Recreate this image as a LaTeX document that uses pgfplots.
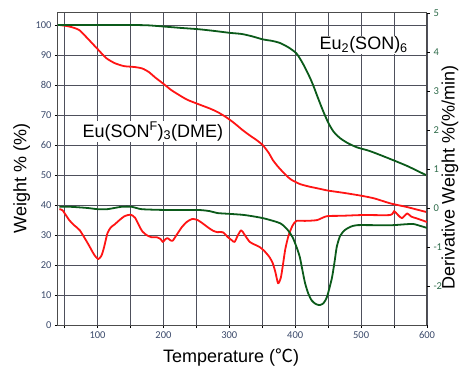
\documentclass[border=0pt]{standalone}
\usepackage{pgfplots}
\pgfplotsset{compat=1.18}
\usepackage{fontspec}
\setmainfont{Liberation Sans}
\newfontfamily\cjk{Noto Sans CJK SC}
\newfontfamily\carlito{Carlito}
\definecolor{tgared}{HTML}{FF1414}
\definecolor{tgagreen}{HTML}{0B5A1A}
\definecolor{ticklblue}{HTML}{3B4A6B}
\definecolor{ticklgreen}{HTML}{2E6B4A}
\definecolor{gridc}{RGB}{78,80,92}

\begin{document}
\begin{tikzpicture}
\begin{axis}[
  scale only axis, width=369pt, height=312pt,
  xmin=40, xmax=600, ymin=0, ymax=104, clip=false,
  xtick={50,100,...,600}, xticklabels={,100,,200,,300,,400,,500,,600},
  ytick={0,10,...,100},
  grid=major, grid style={gridc, line width=0.9pt, solid},
  axis line style={black!70, line width=1pt},
  tick style={black, line width=0.6pt}, tick align=outside, major tick length=3pt,
  xtick pos=bottom, ytick pos=left,
  ticklabel style={font=\carlito\fontsize{10.5}{12}\selectfont, text=ticklblue},
  /pgf/number format/assume math mode=true,
  xlabel={Temperature ({\cjk ℃})},
  ylabel={Weight \% (\%)},
  label style={font=\fontsize{18}{21}\selectfont},
  xlabel style={at={(axis description cs:0.469,-0.103)}, anchor=center},
  ylabel style={at={(axis description cs:-0.098,0.47)}, anchor=center},
]
\pgfplotsinvokeforeach{50,100,...,550}{
  \addplot[gridc, line width=0.9pt, forget plot] coordinates {(#1,0) (#1,104)};
}
\pgfplotsinvokeforeach{10,20,...,100}{
  \addplot[gridc, line width=0.9pt, forget plot] coordinates {(40,#1) (600,#1)};
}
\addplot[tgared, line width=1.8pt, smooth, tension=0.4, line join=round] coordinates {
(42,100) (55,99.6) (65,99) (73,98.2) (85,95.5) (100,92) (113,89) (126,87.3) (140,86.3) (156,86) (168,85.5) (178,84.3) (187,82.6) (200,80.4) (212,78.3) (225,76.5) (237,75) (258,73.2) (270,72.2) (282,71) (295,69.3) (308,67.2) (320,65) (331,63.2) (341,61.7) (351,59.9) (360,57.3) (366,55) (373,53) (380,51.3) (388,49.5) (395,48.3) (407,47) (420,46.2) (435,45.5) (450,44.8) (475,44) (500,43.1) (520,42.2) (545,40.5) (570,39.3) (600,37.6)
};
\addplot[tgagreen, line width=1.8pt, smooth, tension=0.4, line join=round] coordinates {
(40,100) (100,100) (150,100) (176,99.9) (200,99.5) (228,99) (253,98.6) (278,98) (300,97.4) (319,97) (335,96.2) (351,95.2) (365,94.7) (377,94) (390,92.5) (402,90.5) (412,87) (422,82.6) (428,79.5) (434,76) (442,71.5) (450,67.5) (458,64.5) (468,62.3) (480,60.6) (494,59.2) (513,58) (539,55.8) (570,53) (600,49.8)
};
\node[font=\fontsize{18}{21}\selectfont, fill=white, inner sep=1pt] at (axis cs:184,64.5) {Eu(SON\textsuperscript{F})\textsubscript{3}(DME)};
\node[font=\fontsize{18}{21}\selectfont, fill=white, inner sep=1pt] at (axis cs:504,93.3) {Eu\textsubscript{2}(SON)\textsubscript{6}};
\end{axis}
\begin{axis}[
  scale only axis, width=369pt, height=312pt,
  xmin=40, xmax=600, ymin=-3, ymax=5,
  axis x line=none, axis y line*=right,
  ytick={-2,...,5},
  axis line style={black!70, line width=1pt},
  tick style={black, line width=0.6pt}, tick align=outside, major tick length=3pt,
  ticklabel style={font=\carlito\fontsize{10.5}{12}\selectfont, text=ticklgreen},
  /pgf/number format/assume math mode=true,
  ylabel={Derivative Weight \%(\%/min)},
  label style={font=\fontsize{18}{21}\selectfont},
  ylabel style={at={(axis description cs:1.062,0.473)}, anchor=center},
]
\addplot[tgared, line width=1.8pt, smooth, tension=0.4, line join=round] coordinates {
(42,-0.03) (47,-0.06) (57,-0.31) (65,-0.45) (73,-0.57) (85,-0.9) (95,-1.2) (101,-1.31) (106,-1.22) (110,-1.0) (115,-0.65) (120,-0.5) (126,-0.42) (134,-0.3) (141,-0.21) (150,-0.17) (157,-0.25) (163,-0.45) (168,-0.6) (175,-0.7) (182,-0.75) (190,-0.75) (196,-0.8) (199,-0.87) (203,-0.8) (206,-0.77) (210,-0.82) (214,-0.84) (220,-0.69) (228,-0.49) (236,-0.35) (244,-0.28) (252,-0.31) (260,-0.4) (267,-0.49) (275,-0.58) (282,-0.62) (290,-0.62) (298,-0.75) (304,-0.83) (308,-0.87) (313,-0.7) (318,-0.57) (323,-0.68) (331,-0.87) (340,-0.95) (346,-1.0) (353,-1.1) (361,-1.26) (366,-1.42) (370,-1.65) (374,-1.93) (378,-1.8) (381,-1.5) (385,-1.05) (390,-0.7) (396,-0.45) (402,-0.33) (415,-0.33) (433,-0.31) (448,-0.21) (470,-0.2) (503,-0.18) (544,-0.18) (550,-0.08) (556,-0.18) (562,-0.26) (570,-0.14) (576,-0.22) (585,-0.27) (600,-0.36)
};
\addplot[tgagreen, line width=1.8pt, smooth, tension=0.4, line join=round] coordinates {
(42,0.03) (60,0.03) (85,0) (100,-0.03) (115,-0.03) (136,0.03) (152,0.03) (167,-0.03) (202,-0.05) (252,-0.05) (270,-0.08) (282,-0.13) (300,-0.15) (323,-0.18) (351,-0.26) (377,-0.39) (388,-0.55) (396,-0.75) (402,-1.0) (407,-1.26) (411,-1.6) (415,-1.93) (420,-2.2) (425,-2.37) (431,-2.46) (437,-2.49) (443,-2.44) (448,-2.29) (452,-2.05) (456,-1.77) (460,-1.35) (463,-1.0) (468,-0.72) (475,-0.57) (484,-0.48) (494,-0.44) (520,-0.44) (548,-0.44) (565,-0.42) (579,-0.41) (590,-0.46) (600,-0.51)
};
\end{axis}
\pgfresetboundingbox
\path[use as bounding box] (-58pt,-45pt) rectangle (408pt,325pt);
\end{tikzpicture}
\end{document}
